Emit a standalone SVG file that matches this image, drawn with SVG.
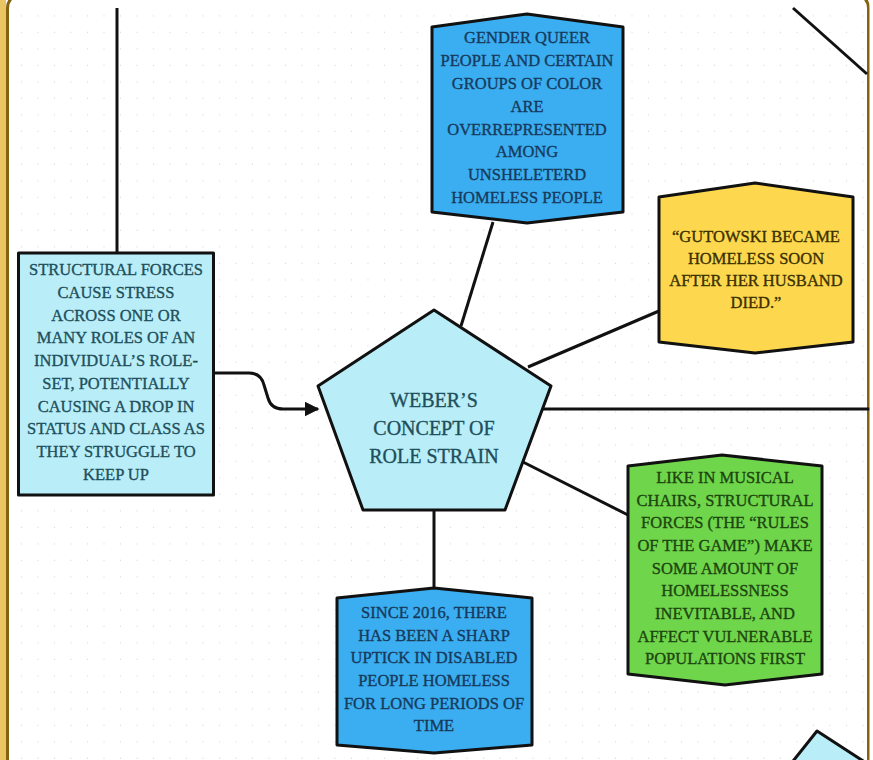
<svg xmlns="http://www.w3.org/2000/svg" width="873" height="760" viewBox="0 0 873 760">
<defs>
<pattern id="dots" x="5.5" y="0" width="16.5" height="16.5" patternUnits="userSpaceOnUse">
<circle cx="16.5" cy="16.2" r="1.1" fill="#dcdcdc"/>
</pattern>
<marker id="arrow" viewBox="0 0 10 10" refX="9" refY="5" markerWidth="5" markerHeight="5" orient="auto" markerUnits="strokeWidth">
<path d="M0,0 L10,5 L0,10 Z" fill="#111"/>
</marker>
<style>
.edge{fill:none;stroke:#111;stroke-width:3}
.shape{stroke:#111;stroke-width:3;stroke-linejoin:round}
.lbl text{font-size:16.5px;text-anchor:middle;stroke-width:0.35}
.lbl text.big{font-size:20px}
.t-cyan{fill:#1f4f5c;stroke:#1f4f5c}
.t-blue{fill:#173a5c;stroke:#173a5c}
.t-yel{fill:#3a3000;stroke:#3a3000}
.t-grn{fill:#1d4510;stroke:#1d4510}
</style>
</defs>
<rect x="0" y="0" width="873" height="760" fill="#ffffff"/>
<rect x="8" y="8" width="860" height="752" fill="url(#dots)"/>
<g id="frame">
<rect x="0" y="0" width="6" height="760" fill="#eac663"/>
<rect x="7.5" y="-6" width="861" height="790" rx="14" fill="none" stroke="#836210" stroke-width="3"/>
</g>
<g id="connectors">
<line class="edge" x1="117" y1="8" x2="117" y2="252"/>
<line class="edge" x1="793" y1="8" x2="867" y2="74"/>
<path class="edge" d="M214,373 L249,373 Q261,373 264,385 L268,398 Q271,409 283,409 L318,409" marker-end="url(#arrow)"/>
<line class="edge" x1="461" y1="326" x2="493" y2="222"/>
<line class="edge" x1="528" y1="367" x2="659" y2="311"/>
<line class="edge" x1="543" y1="409" x2="873" y2="409"/>
<line class="edge" x1="521" y1="461" x2="628" y2="515"/>
<line class="edge" x1="434" y1="510" x2="434" y2="590"/>
</g>
<g class="lbl" font-family="'Liberation Serif', 'Times New Roman', 'DejaVu Serif', serif">
<g id="node-structural">
<rect class="shape" x="18.5" y="253" width="195" height="242" fill="#b9eef9"/>
<text class="t-cyan" x="116" y="275">STRUCTURAL FORCES</text>
<text class="t-cyan" x="116" y="298">CAUSE STRESS</text>
<text class="t-cyan" x="116" y="320.5">ACROSS ONE OR</text>
<text class="t-cyan" x="116" y="343">MANY ROLES OF AN</text>
<text class="t-cyan" x="116" y="366">INDIVIDUAL’S ROLE-</text>
<text class="t-cyan" x="116" y="389">SET, POTENTIALLY</text>
<text class="t-cyan" x="116" y="411.5">CAUSING A DROP IN</text>
<text class="t-cyan" x="116" y="434">STATUS AND CLASS AS</text>
<text class="t-cyan" x="116" y="457">THEY STRUGGLE TO</text>
<text class="t-cyan" x="116" y="480">KEEP UP</text>
</g>
<g id="node-weber">
<polygon class="shape" points="434,310 551,386 505,510 363,510 318,386" fill="#b9eef9"/>
<text class="t-cyan big" x="434" y="407">WEBER’S</text>
<text class="t-cyan big" x="434" y="435">CONCEPT OF</text>
<text class="t-cyan big" x="434" y="463">ROLE STRAIN</text>
</g>
<g id="node-gender">
<polygon class="shape" points="432,27 527,14 623,27 623,212 527,223 432,212" fill="#3aaef0"/>
<text class="t-blue" x="527" y="43">GENDER QUEER</text>
<text class="t-blue" x="527" y="66">PEOPLE AND CERTAIN</text>
<text class="t-blue" x="527" y="89">GROUPS OF COLOR</text>
<text class="t-blue" x="527" y="112">ARE</text>
<text class="t-blue" x="527" y="134.5">OVERREPRESENTED</text>
<text class="t-blue" x="527" y="157">AMONG</text>
<text class="t-blue" x="527" y="180">UNSHELETERD</text>
<text class="t-blue" x="527" y="202.5">HOMELESS PEOPLE</text>
</g>
<g id="node-gutowski">
<polygon class="shape" points="659,197 755,183 853,197 853,342 755,353 659,342" fill="#fdd84f"/>
<text class="t-yel" x="756" y="242">“GUTOWSKI BECAME</text>
<text class="t-yel" x="756" y="264">HOMELESS SOON</text>
<text class="t-yel" x="756" y="286">AFTER HER HUSBAND</text>
<text class="t-yel" x="756" y="308">DIED.”</text>
</g>
<g id="node-musical">
<polygon class="shape" points="628,466 722,455 822,466 822,674 725,685 628,674" fill="#6fd64b"/>
<text class="t-grn" x="725" y="483">LIKE IN MUSICAL</text>
<text class="t-grn" x="725" y="505.5">CHAIRS, STRUCTURAL</text>
<text class="t-grn" x="725" y="528">FORCES (THE “RULES</text>
<text class="t-grn" x="725" y="551">OF THE GAME”) MAKE</text>
<text class="t-grn" x="725" y="573.5">SOME AMOUNT OF</text>
<text class="t-grn" x="725" y="596">HOMELESSNESS</text>
<text class="t-grn" x="725" y="619">INEVITABLE, AND</text>
<text class="t-grn" x="725" y="641.5">AFFECT VULNERABLE</text>
<text class="t-grn" x="725" y="664">POPULATIONS FIRST</text>
</g>
<g id="node-disabled">
<polygon class="shape" points="337,598 434,588 532,598 532,745 434,753 337,745" fill="#3aaef0"/>
<text class="t-blue" x="434" y="618">SINCE 2016, THERE</text>
<text class="t-blue" x="434" y="640.5">HAS BEEN A SHARP</text>
<text class="t-blue" x="434" y="663">UPTICK IN DISABLED</text>
<text class="t-blue" x="434" y="686">PEOPLE HOMELESS</text>
<text class="t-blue" x="434" y="708.5">FOR LONG PERIODS OF</text>
<text class="t-blue" x="434" y="731">TIME</text>
</g>
</g>
<g id="node-partial">
<polygon class="shape" points="817,731 934,807 770,807 770,790" fill="#b9eef9"/>
</g>
<rect x="869.5" y="0" width="4" height="760" fill="#ffffff"/>
</svg>
